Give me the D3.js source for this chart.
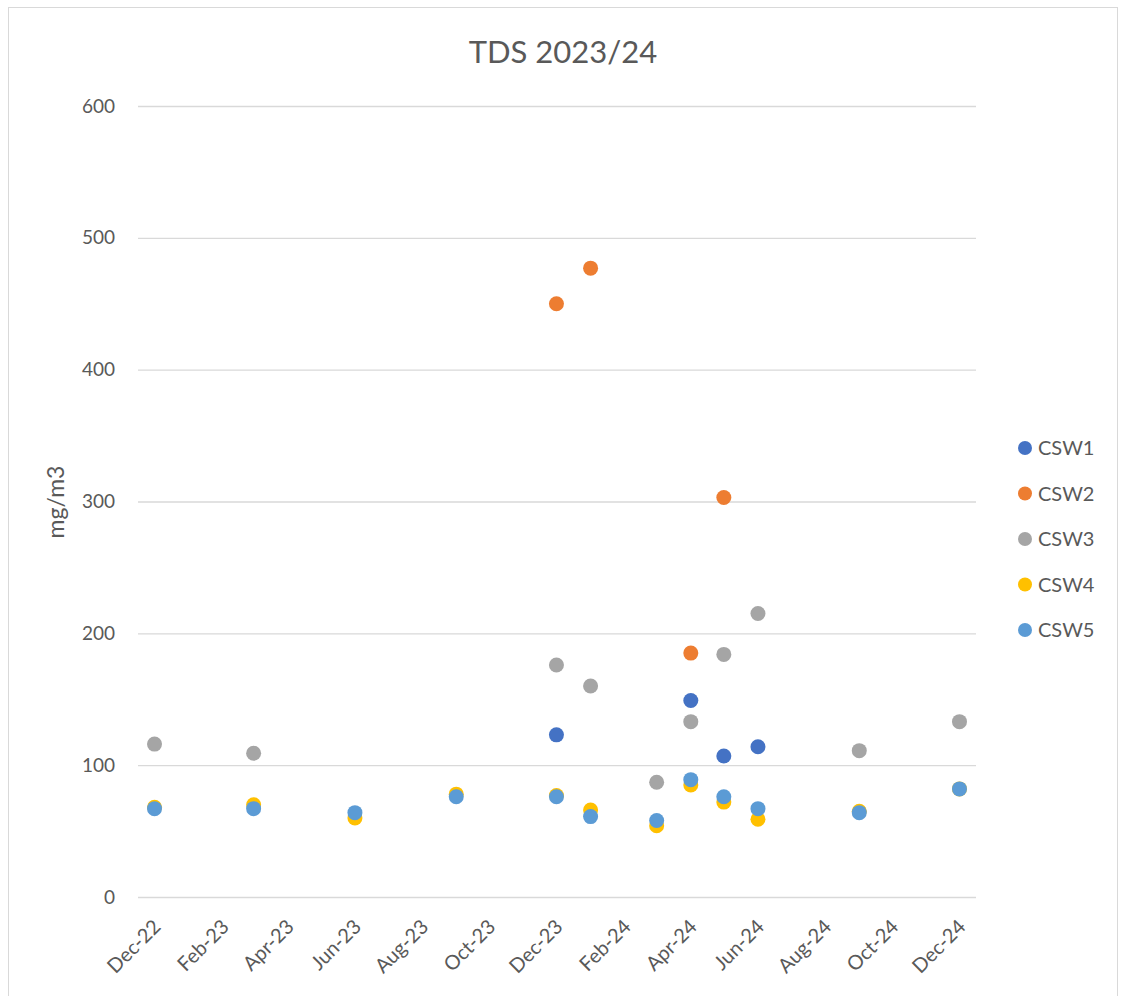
<!DOCTYPE html>
<html>
<head>
<meta charset="utf-8">
<script src="https://cdn.jsdelivr.net/npm/d3@7"></script>
<style>
  body { margin: 0; background: #fff; }
  text { font-family: Lato, "Open Sans", sans-serif; fill: #595959; }
</style>
</head>
<body>
<div id="chart"></div>
<script>
// sample months and readings (mg/m3)
const sampleMonths = ["Dec-22", "Mar-23", "Jun-23", "Sep-23", "Dec-23", "Jan-24",
                      "Mar-24", "Apr-24", "May-24", "Jun-24", "Sep-24", "Dec-24"];
const csw1 = [null, null, null, null, 123, null, null, 149, 107, 114, null, null];
const csw2 = [null, null, null, null, 450, 477, null, 185, 303, null, null, null];
const csw3 = [116, 109, null, null, 176, 160, 87, 133, 184, 215, 111, 133];
const csw4 = [68, 70, 60, 78, 77, 66, 54, 85, 72, 59, 65, 82];
const csw5 = [67, 67, 64, 76, 76, 61, 58, 89, 76, 67, 64, 82];
const seriesNames = ["CSW1", "CSW2", "CSW3", "CSW4", "CSW5"];
const tickLabels = ["Dec-22", "Feb-23", "Apr-23", "Jun-23", "Aug-23", "Oct-23", "Dec-23",
                    "Feb-24", "Apr-24", "Jun-24", "Aug-24", "Oct-24", "Dec-24"];
const yTicks = [0, 100, 200, 300, 400, 500, 600];

const width = 1122;
const height = 996;
const parse = d3.timeParse("%b-%y");
const colors = ["#4472C4", "#ED7D31", "#A5A5A5", "#FFC000", "#5B9BD5"];

const svg = d3.select("#chart")
              .append("svg")
              .attr("width", width)
              .attr("height", height);

svg.append("rect")
   .attr("x", 8.5).attr("y", 7.5)
   .attr("width", 1109).attr("height", 1000)
   .attr("fill", "#fff")
   .attr("stroke", "#d9d9d9");

const x = d3.scaleTime()
            .domain([new Date(2022, 10, 16), new Date(2024, 11, 16)])
            .range([138, 976]);

const y = d3.scaleLinear()
            .domain([0, 600])
            .range([897, 106]);

// gridlines + y labels
const yAxis = svg.append("g")
                 .attr("transform", "translate(138,0)")
                 .call(d3.axisLeft(y).tickValues(yTicks).tickSize(-(976 - 138)).tickPadding(23));
yAxis.select(".domain").remove();
yAxis.selectAll("line").attr("stroke", "#d9d9d9").attr("stroke-width", 1.3);
yAxis.selectAll("text").style("font-size", "19px").attr("fill", "#595959");

const xAxis = svg.append("g")
                 .attr("transform", "translate(0,897)")
                 .call(d3.axisBottom(x).tickValues(tickLabels.map(parse)).tickSize(0).tickFormat(d3.timeFormat("%b-%y")));
xAxis.select(".domain").remove();
xAxis.selectAll("text")
     .style("font-size", "20px")
     .attr("fill", "#595959")
     .attr("text-anchor", "end")
     .attr("dy", null)
     .attr("y", 0)
     .attr("transform", "translate(7,31) rotate(-45)");

svg.append("text")
   .attr("x", 563)
   .attr("y", 63)
   .attr("text-anchor", "middle")
   .style("font-size", "31px")
   .text("TDS 2023/24");

svg.append("text")
   .attr("transform", "translate(64,502) rotate(-90)")
   .attr("text-anchor", "middle")
   .style("font-size", "23px")
   .text("mg/m3");

const allSeries = [csw1, csw2, csw3, csw4, csw5];

allSeries.forEach((vals, s) => {
  const pts = sampleMonths.map((m, i) => ({ date: parse(m), value: vals[i] }))
                          .filter(d => d.value !== null);
  svg.append("g")
     .selectAll("circle")
     .data(pts)
     .enter()
     .append("circle")
     .attr("cx", d => x(d.date))
     .attr("cy", d => y(d.value))
     .attr("r", 7.5)
     .attr("fill", colors[s]);
});

const legend = svg.append("g")
                  .selectAll("g")
                  .data(seriesNames)
                  .enter()
                  .append("g")
                  .attr("transform", (d, i) => `translate(1025, ${448 + i * 45.5})`);

legend.append("circle")
      .attr("r", 7)
      .attr("fill", (d, i) => colors[i]);

legend.append("text")
      .attr("x", 13)
      .attr("y", 7)
      .style("font-size", "20px")
      .text(d => d);
</script>
</body>
</html>
